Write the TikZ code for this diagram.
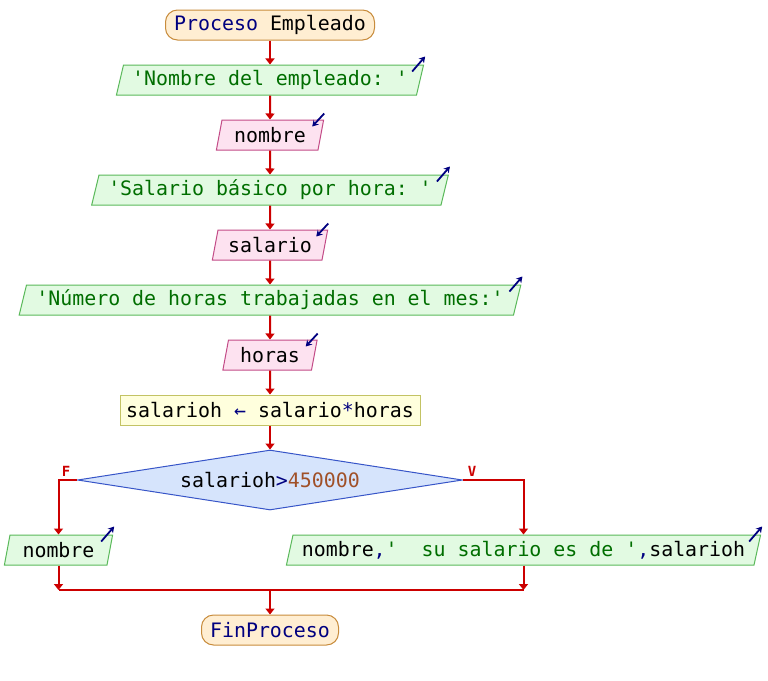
\documentclass[tikz,border=0pt]{standalone}
\usepackage{fontspec}
\setmonofont{DejaVu Sans Mono}
\usepackage{tikz}
\usetikzlibrary{shapes.geometric,arrows.meta}
\definecolor{flowred}{RGB}{204,0,0}
\definecolor{kwblue}{RGB}{0,0,128}
\definecolor{strgreen}{RGB}{0,110,0}
\definecolor{numbrown}{RGB}{160,80,40}
\definecolor{termfill}{RGB}{255,238,210}
\definecolor{termdraw}{RGB}{200,140,60}
\definecolor{outfill}{RGB}{226,250,226}
\definecolor{outdraw}{RGB}{90,185,90}
\definecolor{infill}{RGB}{253,226,240}
\definecolor{indraw}{RGB}{195,75,135}
\definecolor{asgfill}{RGB}{255,255,221}
\definecolor{asgdraw}{RGB}{195,195,100}
\definecolor{condfill}{RGB}{214,228,252}
\definecolor{conddraw}{RGB}{55,85,200}

\begin{document}
\begin{tikzpicture}[x=1pt,y=-1pt,font=\ttfamily\fontsize{19.9}{22}\selectfont]
\tikzset{term/.style=
	{draw=termdraw,fill=termfill,line width=1pt,rounded corners=12pt,minimum width=209pt,minimum height=30pt,inner sep=0pt},
	io/.style=
	{trapezium,trapezium left angle=70,trapezium right angle=110,trapezium stretches=true,
	line width=1pt,minimum height=30pt,inner xsep=0pt,inner ysep=0pt,align=flush center},
	outbox/.style={io,draw=outdraw,fill=outfill,text=strgreen},
	inbox/.style={io,draw=indraw,fill=infill},
	asgbox/.style={draw=asgdraw,fill=asgfill,line width=1pt,minimum width=300pt,minimum height=30pt,inner sep=0pt},
	cond/.style={diamond,draw=conddraw,fill=condfill,line width=1pt,aspect=6.4,minimum width=385pt,minimum height=60pt,inner sep=0pt},
	flow/.style={flowred,line width=2pt,-{Triangle[width=9pt,length=6pt]}},
	outicon/.style={kwblue,line width=1.8pt,-{Stealth[width=7pt,length=6pt]}},
	lbl/.style={text=flowred,font=\ttfamily\bfseries\fontsize{14}{14}\selectfont}}
\fill[white] (0,0) rectangle (768,680);
\useasboundingbox (0,0) rectangle (768,680);

\node[term] (st) at (270,25) {\textcolor{kwblue}{Proceso} Empleado};
\node[outbox,text width=293pt] (o1) at (270,80) {'Nombre del empleado: '};
\node[inbox,text width=96pt] (i1) at (270,135) {nombre};
\node[outbox,text width=342pt] (o2) at (270,190) {'Salario básico por hora: '};
\node[inbox,text width=104pt] (i2) at (270,245) {salario};
\node[outbox,text width=487pt] (o3) at (270,300) {'Número de horas trabajadas en el mes:'};
\node[inbox,text width=83pt] (i3) at (270,355) {horas};
\node[asgbox] (as) at (270,410) {salarioh \textcolor{kwblue}{←} salario\textcolor{kwblue}{*}horas};
\node[cond] (d) at (270,480) {salarioh\textcolor{kwblue}{>}\textcolor{numbrown}{450000}};
\node[outbox,text width=97pt,text=black] (L) at (58.5,550) {nombre};
\node[outbox,text width=461pt,text=black] (R) at (523.5,550)
	{nombre\textcolor{kwblue}{,}\textcolor{strgreen}{'\ \ su salario es de '}\textcolor{kwblue}{,}salarioh};
\node[term,minimum width=137pt] (en) at (270,630) {\textcolor{kwblue}{FinProceso}};

% main line
\foreach \a/\b in {st/o1,o1/i1,i1/o2,o2/i2,i2/o3,o3/i3,i3/as,as/d}
	\draw[flow] (\a) -- (\b);

% branches
\draw[flow] (d.west) -| (L);
\draw[flow] (d.east) -| (R);
\node[lbl,anchor=south] (lf) at ([xshift=-11pt]d.west) {F};
\node[lbl,anchor=south] (lv) at ([xshift=9pt]d.east) {V};
\coordinate (j) at (270,590);
\draw[flow] (L) -- (L |- j);
\draw[flow] (R) -- (R |- j);
\draw[flowred,line width=2pt] (L |- j) -- (R |- j);
\draw[flow] (j) -- (en);

% io marks
\foreach \n in {o1,o2,o3,L,R}
	\draw[outicon] ([shift={(-12pt,-7pt)}]\n.top right corner) -- ([shift={(1pt,8pt)}]\n.top right corner);
\foreach \n in {i1,i2,i3}
	\draw[outicon] ([shift={(0pt,6pt)}]\n.top right corner) -- ([shift={(-12pt,-7pt)}]\n.top right corner);
\end{tikzpicture}
\end{document}
